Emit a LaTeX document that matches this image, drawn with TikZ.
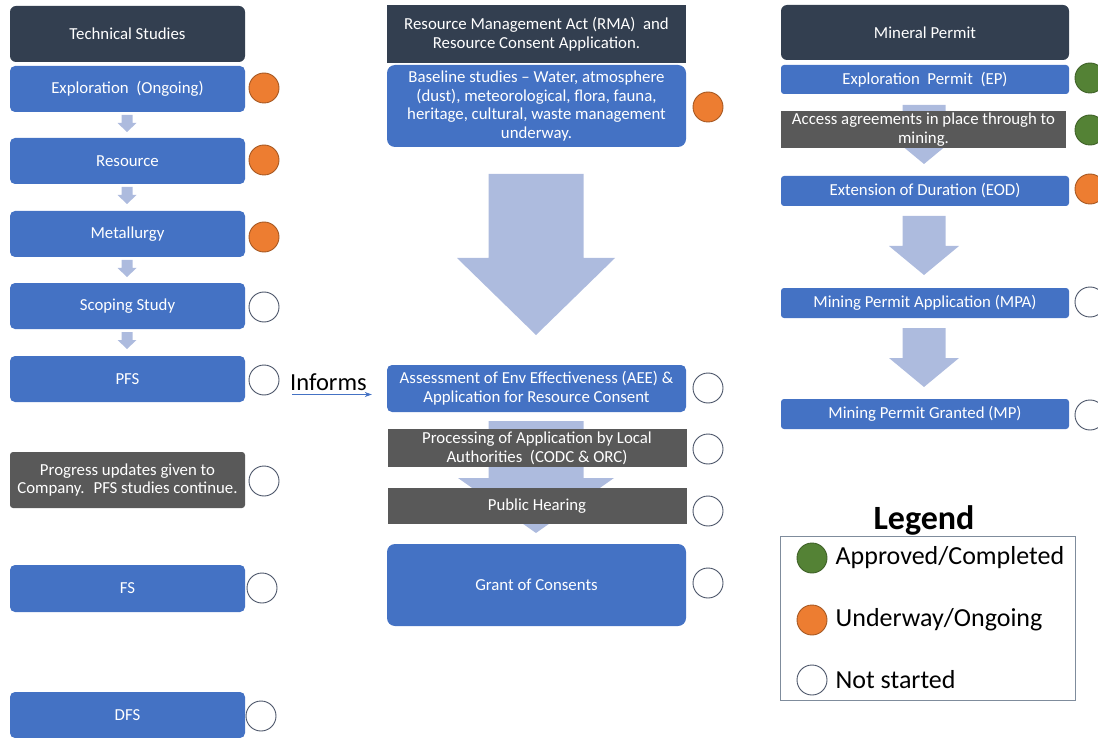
\documentclass[tikz,border=0pt]{standalone}
\usepackage{fontspec}
\setmainfont{Carlito}
\usetikzlibrary{positioning,arrows.meta}

\definecolor{hdrnavy}{HTML}{333F50}
\definecolor{stageblue}{HTML}{4472C4}
\definecolor{notegrey}{HTML}{595959}
\definecolor{flowfill}{HTML}{ADBBDE}
\definecolor{donegreen}{HTML}{548235}
\definecolor{doingorange}{HTML}{ED7D31}
\definecolor{todoslate}{HTML}{4A5468}
\definecolor{legendframe}{HTML}{7F8C9C}

\newcommand{\boxfont}{\fontsize{16.8}{18.8}\selectfont}
% block arrow: centre x, top y, head y, tip y, shaft half width, head half width
\newcommand{\flowarrow}[6]{%
  \fill[flowfill] (#1-#5,#2) -- (#1+#5,#2) -- (#1+#5,#3) -- (#1+#6,#3)
    -- (#1,#4) -- (#1-#6,#3) -- (#1-#5,#3) -- cycle;}

\begin{document}
\begin{tikzpicture}[x=1pt,y=-1pt,
  box/.style={text=white, inner sep=2pt, align=center, font=\boxfont},
  hdr/.style={box, fill=hdrnavy},
  stage/.style={box, fill=stageblue, rounded corners=5pt},
  note/.style={box, fill=notegrey},
  colL/.style={minimum width=235},
  colM/.style={minimum width=299},
  colR/.style={minimum width=288},
  dot/.style={circle, minimum size=30, inner sep=0pt, line width=0.9pt},
  done/.style={dot, fill=donegreen, draw=donegreen!75!black},
  doing/.style={dot, fill=doingorange, draw=doingorange!70!black},
  todo/.style={dot, fill=white, draw=todoslate},
  legtext/.style={font=\fontsize{26}{30}\selectfont, inner sep=0pt}]
\useasboundingbox (0,0) rectangle (1098,738);

% arrows behind the boxes
\foreach \t in {115,187,260,332}
  {\flowarrow{127}{\t}{\t+8}{\t+17}{5.5}{9.5}}
\flowarrow{536}{174}{258}{335}{47.5}{79}
\flowarrow{536}{421}{478}{533}{47.5}{78}
\foreach \t in {105,216,328}
  {\flowarrow{924}{\t}{\t+30}{\t+59}{21.5}{35}}

% Technical studies
\node[hdr, colL, minimum height=56, rounded corners=6pt] (tech) at (127.5,34) {Technical Studies};
\node[stage, colL, minimum height=46] (expl) at (127.5,89) {Exploration \ (Ongoing)};
\node[stage, colL, minimum height=46] (res) at (127.5,161) {Resource};
\node[stage, colL, minimum height=46] (metal) at (127.5,234) {Metallurgy};
\node[stage, colL, minimum height=46] (scope) at (127.5,306) {Scoping Study};
\node[stage, colL, minimum height=46] (pfs) at (127.5,379) {PFS};
\node[note, colL, minimum height=56, rounded corners=3pt] (prog) at (127.5,480)
  {Progress updates given to\\Company. \ PFS studies continue.};
\node[stage, colL, minimum height=47] (fs) at (127.5,588.5) {FS};
\node[stage, colL, minimum height=46] (dfs) at (127.5,715) {DFS};

\node[doing] (expldot) at (264,88) {};
\node[doing] (resdot) at (264,160) {};
\node[doing] (metaldot) at (264,237) {};
\node[todo] (scopedot) at (264,307) {};
\node[todo] (pfsdot) at (264,380) {};
\node[todo] (progdot) at (264,481) {};
\node[todo] (fsdot) at (262,588) {};
\node[todo] (dfsdot) at (261,716) {};

% Resource consent
\node[hdr, colM, minimum height=58] (rma) at (536.5,34)
  {Resource Management Act (RMA) \ and\\Resource Consent Application.};
\node[stage, colM, minimum height=82, rounded corners=8pt] (base) at (536.5,106)
  {Baseline studies -- Water, atmosphere\\(dust), meteorological, flora, fauna,\\heritage, cultural, waste management\\underway.};
\node[stage, colM, minimum height=47] (aee) at (536.5,388.5)
  {Assessment of Env Effectiveness (AEE) \&\\Application for Resource Consent};
\node[note, colM, minimum height=38] (proc) at (537,448)
  {Processing of Application by Local\\Authorities \ (CODC \& ORC)};
\node[note, colM, minimum height=36] (hear) at (537,506) {Public Hearing};
\node[stage, colM, minimum height=82, rounded corners=8pt] (grant) at (536.5,585) {Grant of Consents};

\node[doing] (basedot) at (708,107) {};
\node[todo] (aeedot) at (708,388) {};
\node[todo] (procdot) at (708,449) {};
\node[todo] (heardot) at (708,511) {};
\node[todo] (grantdot) at (708,583) {};

\node[legtext, anchor=south west, font=\fontsize{24.5}{28}\selectfont] (inf) at (290,390.5) {Informs};
\draw[stageblue, line width=0.8pt, -{Stealth[length=7pt,width=5pt]}]
  ([xshift=2pt,yshift=-4pt]inf.south west) -- ([xshift=-15pt,yshift=-4pt]inf.south west -| aee.west);

% Mineral permit
\node[hdr, colR, minimum height=55, rounded corners=6pt] (mp) at (925,32.5) {Mineral Permit};
\node[stage, colR, minimum height=29, rounded corners=3pt] (ep) at (925,79.5) {Exploration \ Permit \ (EP)};
\node[note, minimum width=285, minimum height=37] (access) at (923.5,129.5)
  {Access agreements in place through to\\mining.};
\node[stage, colR, minimum height=30, rounded corners=3pt] (eod) at (925,191) {Extension of Duration (EOD)};
\node[stage, colR, minimum height=30, rounded corners=3pt] (mpa) at (925,303) {Mining Permit Application (MPA)};
\node[stage, colR, minimum height=30, rounded corners=3pt] (mpg) at (925,414) {Mining Permit Granted (MP)};

\node[done] (epdot) at (1090,78) {};
\node[done] (accessdot) at (1090,130) {};
\node[doing] (eoddot) at (1090,189) {};
\node[todo] (mpadot) at (1090,302) {};
\node[todo] (mpgdot) at (1090,415) {};

% Legend
\node[font=\bfseries\fontsize{34}{38}\selectfont, inner sep=0pt] (legtitle) at (924,520) {Legend};
\node[draw=legendframe, line width=0.9pt, minimum width=295, minimum height=164] (legbox) at (927.5,618) {};
\node[done] (legdone) at (812,558) {};
\node[doing] (legdoing) at (812,620) {};
\node[todo] (legtodo) at (812,680) {};
\node[legtext, right=8pt of legdone] {Approved/Completed};
\node[legtext, right=8pt of legdoing] {Underway/Ongoing};
\node[legtext, right=8pt of legtodo] {Not started};
\end{tikzpicture}
\end{document}
